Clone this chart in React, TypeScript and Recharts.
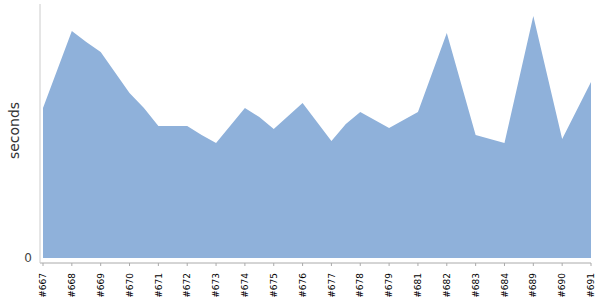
import { AreaChart, Area, XAxis, YAxis } from 'recharts';

// build labels along the x axis, one per whole position
const buildLabels = [
  '#667', '#668', '#669', '#670', '#671', '#672', '#673', '#674', '#675', '#676',
  '#677', '#678', '#679', '#681', '#682', '#683', '#684', '#689', '#690', '#691',
];

// x position of each sample (whole numbers = labelled builds, halves = unlabelled runs)
const positions = [
  0, 1, 1.5, 2, 3, 3.5, 4, 5, 5.5, 6, 7, 7.5, 8, 9, 10, 10.5, 11, 12, 13, 14, 15, 16, 17, 18, 19,
];

// duration in seconds for each sample
const seconds = [
  150, 227, 216, 206, 165, 150, 132, 132, 123, 115, 150, 141, 129, 155, 117, 134, 146, 130, 146,
  225, 123, 115, 242, 119, 176,
];

const data = positions.map((x, i) => ({ x, seconds: seconds[i] }));
const tickPositions = buildLabels.map((_, i) => i);

const BuildTick = (props: any) => {
  const { x, y, payload } = props;
  return (
    <g transform={`translate(${x},${y})`}>
      <text
        transform="rotate(-90)"
        textAnchor="end"
        dy="0.35em"
        fontSize={9}
        fontFamily="DejaVu Sans"
        fill="#000"
      >
        {buildLabels[payload.value]}
      </text>
    </g>
  );
};

export default function App() {
  return (
    <div style={{ position: 'absolute', left: 0, top: 0, width: 600, height: 300, background: '#fff' }}>
      <AreaChart width={600} height={300} data={data} margin={{ top: 4, right: 9, left: 0, bottom: 0 }}>
        <XAxis
          dataKey="x"
          type="number"
          domain={[0, 19]}
          ticks={tickPositions}
          interval={0}
          padding={{ left: 3, right: 0 }}
          height={37}
          tickSize={3}
          tickMargin={7}
          axisLine={{ stroke: '#aaa' }}
          tickLine={{ stroke: '#aaa' }}
          tick={<BuildTick />}
        />
        <YAxis
          width={40}
          domain={[-5, 254]}
          ticks={[0]}
          tickLine={false}
          axisLine={{ stroke: '#ccc' }}
          tick={{ fill: '#444', fontSize: 12, fontFamily: 'DejaVu Sans' }}
          label={{
            value: 'seconds',
            angle: -90,
            position: 'center',
            dx: -6,
            dy: -3,
            style: { fill: '#333', fontSize: 14, fontFamily: 'DejaVu Sans' },
          }}
        />
        <Area
          type="linear"
          dataKey="seconds"
          stroke="none"
          fill="#8fb1da"
          fillOpacity={1}
          baseValue={0}
          isAnimationActive={false}
        />
      </AreaChart>
    </div>
  );
}
